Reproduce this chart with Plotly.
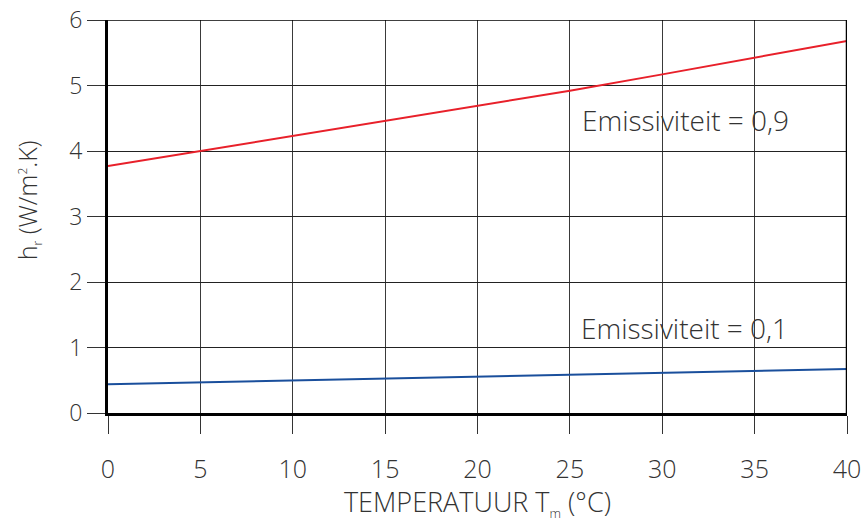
import plotly.graph_objects as go

temps = [0, 5, 10, 15, 20, 25, 30, 35, 40]
hr_e09 = [3.77, 4.00, 4.23, 4.46, 4.69, 4.92, 5.17, 5.42, 5.68]
hr_e01 = [0.44, 0.47, 0.50, 0.52, 0.55, 0.58, 0.61, 0.64, 0.67]
y_ticks = [0, 1, 2, 3, 4, 5, 6]
labels = ["Emissiviteit = 0,9", "Emissiviteit = 0,1"]
label_pos = [(25.55, 4.48), (25.5, 1.30)]
x_title = "TEMPERATUUR T<sub><span style='font-size:13px'>m</span></sub> (°C)"
y_title = "h<sub><span style='font-size:12px'>r</span></sub> (W/m<sup><span style='font-size:12px'>2</span></sup>.K)"

font = "Open Sans, Liberation Sans, Arial, sans-serif"
txt = "#333333"

fig = go.Figure()
fig.add_trace(go.Scatter(x=temps, y=hr_e09, mode="lines",
                         line=dict(color="#e8202a", width=2), showlegend=False))
fig.add_trace(go.Scatter(x=temps, y=hr_e01, mode="lines",
                         line=dict(color="#1a4f9c", width=2), showlegend=False))

for t, (ax_, ay_) in zip(labels, label_pos):
    fig.add_annotation(x=ax_, y=ay_, text=t, showarrow=False, xanchor="left",
                       yanchor="middle",
                       font=dict(family=font, size=28, color=txt, weight=300))

# y-axis title as rotated annotation
fig.add_annotation(x=-0.108, y=0.542, xref="paper", yref="paper", text=y_title,
                   showarrow=False, textangle=-90, xanchor="center", yanchor="middle",
                   font=dict(family=font, size=25, color=txt, weight=300))

fig.update_layout(
    width=866, height=522,
    margin=dict(l=108, r=19, t=20, b=109),
    paper_bgcolor="white", plot_bgcolor="white",
    font=dict(family=font, size=24, color=txt, weight=300),
    xaxis=dict(range=[0, 40], tickvals=temps, ticks="outside", ticklen=18,
               tickcolor="#333", tickwidth=1, showgrid=True, gridcolor="#3a3a3a",
               gridwidth=1, zeroline=False, automargin=False,
               showline=True, linecolor="black", linewidth=3,
               ticklabelstandoff=14,
               tickfont=dict(size=25, color=txt, weight=300),
               title=dict(text=x_title, standoff=8,
                          font=dict(size=27, color=txt, weight=300))),
    yaxis=dict(range=[0, 6], tickvals=y_ticks, ticks="outside",
               ticklen=18, tickcolor="#333", tickwidth=1, showgrid=True,
               gridcolor="#222", gridwidth=1, zeroline=False, automargin=False,
               showline=True, linecolor="black", linewidth=3,
               tickfont=dict(size=23, color=txt, weight=300)),
)
# frame: right and top borders
fig.add_shape(type="line", xref="x", yref="paper", x0=40, x1=40, y0=0, y1=1,
              line=dict(color="black", width=2.5))
fig.add_shape(type="line", xref="paper", yref="y", x0=0, x1=1, y0=6, y1=6,
              line=dict(color="black", width=1.5))

fig.write_html("out.html")
